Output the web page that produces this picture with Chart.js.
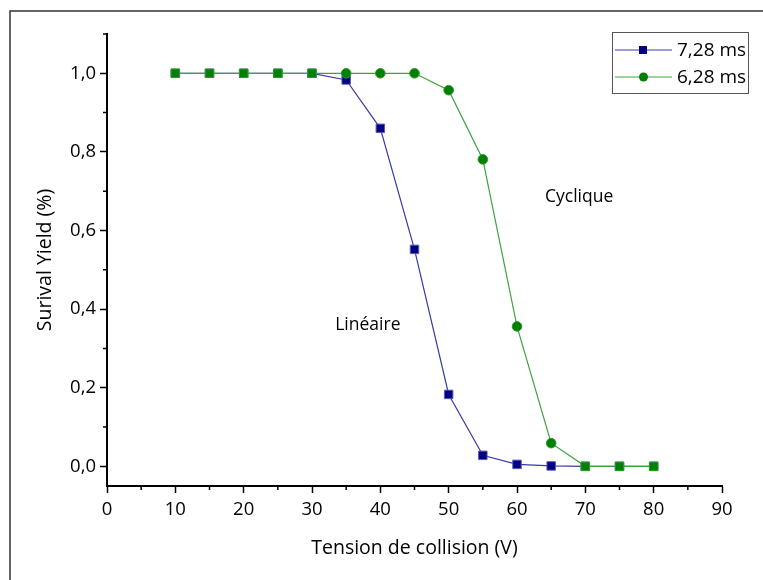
<!DOCTYPE html>
<html>
<head>
<meta charset="utf-8">
<script src="https://cdn.jsdelivr.net/npm/chart.js@4/dist/chart.umd.min.js"></script>
<style>
  html, body { margin: 0; padding: 0; background: #fff; }
  #wrap { width: 763px; height: 580px; position: relative; }
</style>
</head>
<body>
<div id="wrap"><canvas id="chart" width="763" height="580"></canvas></div>
<script>
// collision voltage (V)
const voltages = [10, 15, 20, 25, 30, 35, 40, 45, 50, 55, 60, 65, 70, 75, 80];
// survival yield, 7,28 ms (linear)
const yieldLinear = [1, 1, 1, 1, 1, 0.983, 0.86, 0.552, 0.183, 0.028, 0.005, 0.001, 0, 0, 0];
// survival yield, 6,28 ms (cyclic)
const yieldCyclic = [1, 1, 1, 1, 1, 1, 1, 1, 0.957, 0.781, 0.356, 0.059, 0, 0, 0];

const seriesNames = ["7,28 ms", "6,28 ms"];
const xTicks = [0, 10, 20, 30, 40, 50, 60, 70, 80, 90];
const xMinorTicks = [5, 15, 25, 35, 45, 55, 65, 75, 85];
const yTicks = [0, 0.2, 0.4, 0.6, 0.8, 1.0];
const yMinorTicks = [0.1, 0.3, 0.5, 0.7, 0.9, 1.1];

// text labels placed in data coordinates
const notes = [
  { text: "Cyclique", x: 64.1, y: 0.684 },
  { text: "Linéaire", x: 33.4, y: 0.359 }
];

const FONT = "'Open Sans', 'Liberation Sans', sans-serif";
const BLUE = "#000080";
const GREEN = "#008000";

const toPoints = (vals) => voltages.map((v, i) => ({ x: v, y: vals[i] }));

// green markers look square where both series coincide
const greenStyle = (ctx) => yieldCyclic[ctx.dataIndex] === yieldLinear[ctx.dataIndex] ? "rect" : "circle";
const greenRadius = (ctx) => greenStyle(ctx) === "rect" ? 6 : 4.8;

const decor = {
  id: "decor",
  beforeDraw(chart) {
    const c = chart.ctx;
    c.save();
    c.fillStyle = "#fff";
    c.fillRect(0, 0, chart.width, chart.height);
    c.strokeStyle = "#333";
    c.lineWidth = 1.5;
    c.beginPath();
    c.moveTo(763, 11);
    c.lineTo(10, 11);
    c.lineTo(10, 580);
    c.stroke();
    c.restore();
  },
  afterDraw(chart) {
    const c = chart.ctx;
    const xs = chart.scales.x, ys = chart.scales.y;
    c.save();
    // minor ticks
    c.strokeStyle = "#000";
    c.lineWidth = 1.5;
    c.beginPath();
    xMinorTicks.forEach(v => {
      const px = xs.getPixelForValue(v);
      c.moveTo(px, ys.bottom);
      c.lineTo(px, ys.bottom + 4);
    });
    yMinorTicks.forEach(v => {
      const py = ys.getPixelForValue(v);
      c.moveTo(xs.left, py);
      c.lineTo(xs.left - 4, py);
    });
    c.stroke();

    // annotations
    c.fillStyle = "#000";
    c.font = "17.5px " + FONT;
    c.textBaseline = "middle";
    c.textAlign = "left";
    notes.forEach(n => c.fillText(n.text, xs.getPixelForValue(n.x), ys.getPixelForValue(n.y)));

    // legend box
    c.strokeStyle = "#555";
    c.lineWidth = 1;
    c.strokeRect(612.5, 32.5, 136, 61);
    chart.data.datasets.slice().sort((a, b) => a.legendIndex - b.legendIndex).forEach((ds, i) => {
      const ly = 50 + i * 27;
      c.strokeStyle = ds.borderColor;
      c.lineWidth = 1.2;
      c.beginPath();
      c.moveTo(615, ly);
      c.lineTo(672, ly);
      c.stroke();
      c.fillStyle = ds.pointBackgroundColor;
      if (ds.legendMarker === "rect") {
        c.fillRect(639, ly - 4, 8, 8);
      } else {
        c.beginPath();
        c.arc(643.5, ly, 4.5, 0, Math.PI * 2);
        c.fill();
      }
      c.fillStyle = "#000";
      c.font = "19px " + FONT;
      c.fillText(ds.label, 677, ly + 1);
    });
    c.restore();
  }
};

new Chart(document.getElementById("chart"), {
  type: "line",
  data: {
    datasets: [
      {
        label: seriesNames[0],
        data: toPoints(yieldLinear),
        borderColor: "#3a3aa6",
        borderWidth: 1.2,
        pointStyle: "rect",
        pointRadius: 6,
        pointBackgroundColor: BLUE,
        pointBorderColor: "#5a5ab8",
        pointBorderWidth: 1,
        legendMarker: "rect",
        legendIndex: 0,
        order: 1,
        tension: 0
      },
      {
        label: seriesNames[1],
        data: toPoints(yieldCyclic),
        borderColor: "#3da33d",
        borderWidth: 1.2,
        pointStyle: greenStyle,
        pointRadius: greenRadius,
        pointBackgroundColor: GREEN,
        pointBorderColor: "#2f9a2f",
        pointBorderWidth: 1,
        legendMarker: "circle",
        legendIndex: 1,
        order: 0,
        tension: 0
      }
    ]
  },
  options: {
    responsive: false,
    animation: false,
    layout: { padding: { left: 20, right: 41, top: 34, bottom: 0 } },
    plugins: { legend: { display: false }, tooltip: { enabled: false } },
    scales: {
      x: {
        type: "linear",
        min: 0,
        max: 90,
        afterBuildTicks: (s) => { s.ticks = xTicks.map(v => ({ value: v })); },
        afterFit: (s) => { s.height = 94; },
        grid: { drawOnChartArea: false, drawTicks: true, tickLength: 7, tickColor: "#000", tickWidth: 1.5 },
        border: { display: true, color: "#000", width: 2 },
        ticks: { color: "#000", font: { family: FONT, size: 18.5 }, padding: 6, maxRotation: 0 },
        title: { display: true, text: "Tension de collision (V)", color: "#000", font: { family: FONT, size: 19.5 }, padding: { top: 0, bottom: 20 } }
      },
      y: {
        type: "linear",
        min: -0.05,
        max: 1.1,
        afterBuildTicks: (s) => { s.ticks = yTicks.map(v => ({ value: v })); },
        afterFit: (s) => { s.width = 87; },
        grid: { drawOnChartArea: false, drawTicks: true, tickLength: 7, tickColor: "#000", tickWidth: 1.5 },
        border: { display: true, color: "#000", width: 2 },
        ticks: {
          color: "#000",
          font: { family: FONT, size: 18.5 },
          padding: 4,
          callback: (v) => v.toFixed(1).replace(".", ",")
        },
        title: { display: true, text: "Surival Yield (%)", color: "#000", font: { family: FONT, size: 19.5 }, padding: { top: 14, bottom: 0 } }
      }
    }
  },
  plugins: [decor]
});
</script>
</body>
</html>
